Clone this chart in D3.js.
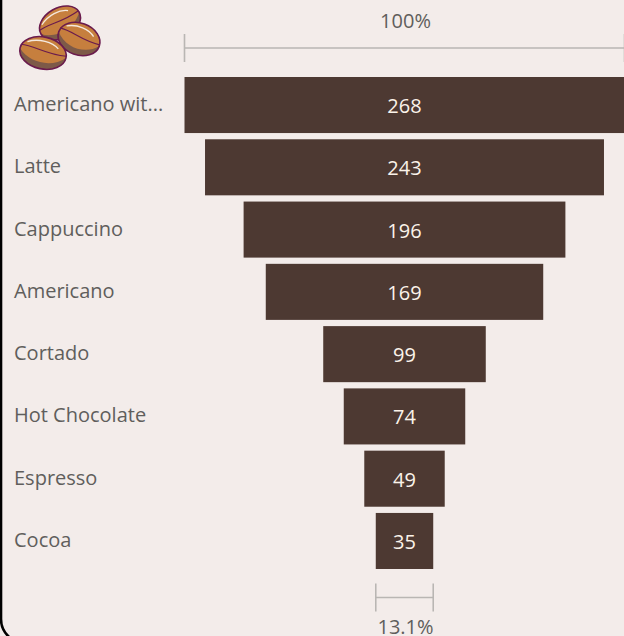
<!DOCTYPE html>
<html>
<head>
<meta charset="utf-8">
<script src="https://cdn.jsdelivr.net/npm/d3@7"></script>
<style>
    html, body { margin: 0; padding: 0; background: #f3ecea; overflow: hidden; }
    svg { display: block; }
    text { font-family: "Open Sans", sans-serif; }
</style>
</head>
<body>
<div id="chart"></div>
<script>
// funnel data
const categories = ['Americano wit...', 'Latte', 'Cappuccino', 'Americano', 'Cortado', 'Hot Chocolate', 'Espresso', 'Cocoa'];
const values = [268, 243, 196, 169, 99, 74, 49, 35];
const topLabel = '100%';
const bottomLabel = '13.1%';

const width = 624, height = 636;
const centerX = 404.5;

const svg = d3.select('#chart').append('svg')
    .attr('width', width)
    .attr('height', height);

// card outline, only left edge and bottom corner end up on screen
svg.append('rect')
    .attr('x', 1).attr('y', -40)
    .attr('width', width + 40).attr('height', height + 47)
    .attr('rx', 24)
    .attr('fill', '#f3ecea')
    .attr('stroke', '#000')
    .attr('stroke-width', 2.6);

const y = d3.scaleBand()
    .domain(categories)
    .range([77, 569])
    .paddingInner(0.1);

const w = d3.scaleLinear()
    .domain([0, d3.max(values)])
    .range([0, 440]);

const rows = categories.map((c, i) => ({ name: c, value: values[i] }));

svg.selectAll('.bar')
    .data(rows)
    .enter().append('rect')
    .attr('class', 'bar')
    .attr('x', d => centerX - w(d.value) / 2)
    .attr('y', d => y(d.name))
    .attr('width', d => w(d.value))
    .attr('height', y.bandwidth())
    .attr('fill', '#4d3932');

svg.selectAll('.val')
    .data(rows)
    .enter().append('text')
    .attr('class', 'val')
    .attr('x', centerX)
    .attr('y', d => y(d.name) + y.bandwidth() / 2 + 1)
    .attr('dy', '0.35em')
    .attr('text-anchor', 'middle')
    .attr('font-size', 20)
    .attr('fill', '#fbf3ea')
    .text(d => d.value);

svg.selectAll('.cat')
    .data(rows)
    .enter().append('text')
    .attr('class', 'cat')
    .attr('x', 14)
    .attr('y', d => y(d.name) + y.bandwidth() / 2 - 1)
    .attr('dy', '0.35em')
    .attr('font-size', 20)
    .attr('fill', '#605e5c')
    .text(d => d.name);

// width brackets, top and bottom
function bracket(value, yPos, label, labelY) {
    const half = w(value) / 2;
    const g = svg.append('g').attr('stroke', '#b9b6b3').attr('stroke-width', 1.6);
    g.append('line').attr('x1', centerX - half).attr('x2', centerX + half).attr('y1', yPos).attr('y2', yPos);
    g.append('line').attr('x1', centerX - half).attr('x2', centerX - half).attr('y1', yPos - 14).attr('y2', yPos + 14);
    g.append('line').attr('x1', centerX + half).attr('x2', centerX + half).attr('y1', yPos - 14).attr('y2', yPos + 14);
    svg.append('text')
        .attr('x', centerX + 1)
        .attr('y', labelY)
        .attr('text-anchor', 'middle')
        .attr('font-size', 20)
        .attr('fill', '#605e5c')
        .text(label);
}
bracket(d3.max(values), 48, topLabel, 28);
bracket(d3.min(values), 597.5, bottomLabel, 634);

// coffee beans icon
function bean(cx, cy, rx, ry, angle) {
    const g = svg.append('g').attr('transform', `translate(${cx},${cy}) rotate(${angle})`);
    g.append('ellipse').attr('rx', rx).attr('ry', ry).attr('fill', '#7d5a48');
    g.append('path')
        .attr('d', `M${-rx},0 A${rx},${ry} 0 0 1 ${rx},0 C${rx / 2},${ry * 0.8} ${-rx / 2},${ry * 0.8} ${-rx},0Z`)
        .attr('fill', '#c67f3e');
    g.append('path')
        .attr('d', `M${-rx * 0.75},${-ry * 0.5} C${-rx * 0.3},${-ry * 0.85} ${rx * 0.3},${-ry * 0.8} ${rx * 0.6},${-ry * 0.45}`)
        .attr('fill', 'none').attr('stroke', '#f5e9df').attr('stroke-width', 1.3);
    g.append('path')
        .attr('d', `M${-rx},${-ry * 0.25} C${-rx * 0.4},${-ry * 0.35} ${rx * 0.1},${ry * 0.05} ${rx},${-ry * 0.1}`)
        .attr('fill', 'none').attr('stroke', '#6a1b4d').attr('stroke-width', 1.1);
    g.append('ellipse').attr('rx', rx).attr('ry', ry)
        .attr('fill', 'none').attr('stroke', '#6a1b4d').attr('stroke-width', 1.6);
}
bean(60, 23, 22, 15, -30);
bean(79, 39, 21.5, 16, 20);
bean(43, 53, 23.5, 16, 12);
</script>
</body>
</html>
